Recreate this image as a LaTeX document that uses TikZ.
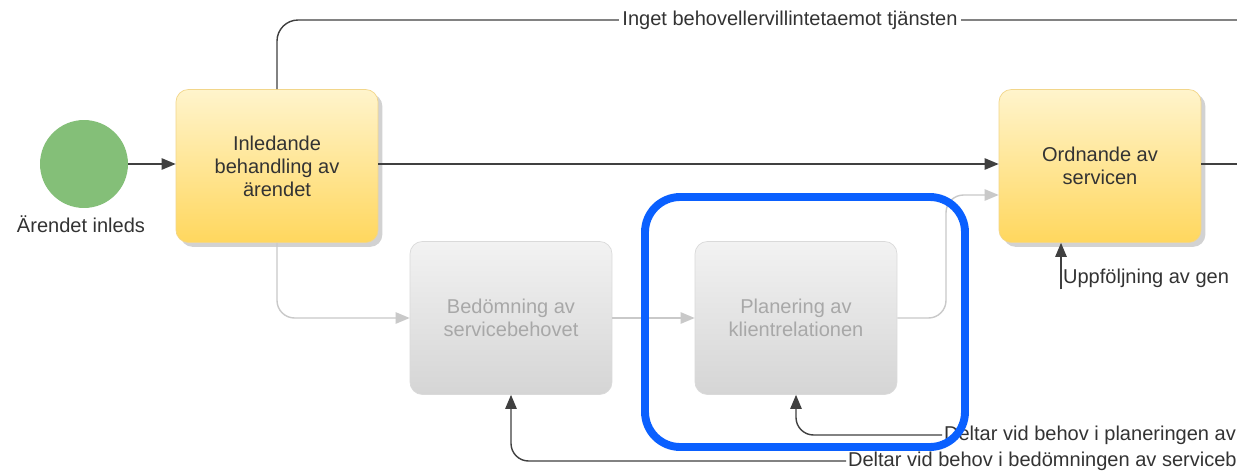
\documentclass[tikz,border=0pt]{standalone}
\usepackage{fontspec}
\setmainfont{Liberation Sans}
\usetikzlibrary{arrows.meta,shadows}
\definecolor{startgreen}{HTML}{84BF78}
\definecolor{yeltop}{HTML}{FFF4CC}
\definecolor{yelbot}{HTML}{FFD75E}
\definecolor{yelrim}{HTML}{F2D68A}
\definecolor{grytop}{HTML}{F2F2F2}
\definecolor{grybot}{HTML}{D5D5D5}
\definecolor{grytext}{HTML}{A8A8A8}
\definecolor{grline}{HTML}{C9C9C9}
\definecolor{txt}{HTML}{333333}
\definecolor{markblue}{HTML}{0A60FF}

\begin{document}
\begin{tikzpicture}[x=0.02cm,y=-0.02cm,
    font=\fontsize{11.4}{13.5}\selectfont, text=txt,
    task/.style={rounded corners=7pt, minimum width=4.04cm, minimum height=3.06cm,
        align=center, font=\fontsize{11.4}{13}\selectfont},
    active/.style={task, draw=yelrim, top color=yeltop, bottom color=yelbot,
        drop shadow={shadow xshift=2.5pt, shadow yshift=-2.5pt, opacity=0.35}},
    passive/.style={task, draw=grytop!90!black, top color=grytop, bottom color=grybot, text=grytext},
    flow/.style={draw=black!75, line width=0.8pt, -{Triangle[length=8pt,width=6.5pt]}},
    plain/.style={draw=black!75, line width=0.8pt},
    faint/.style={draw=grline, line width=0.8pt, -{Triangle[length=8pt,width=6.5pt,fill=grline]}}]
    \clip (0,0) rectangle (1237,470);
    \fill[white] (0,0) rectangle (1237,470);

    \node[circle, fill=startgreen, minimum size=1.76cm] (start) at (84,164) {};
    \node (startlbl) at (81,224) {Ärendet inleds};
    \node[active] (inled) at (277,166) {Inledande\\behandling av\\ärendet};
    \node[active] (ordn) at (1100,166) {Ordnande av\\servicen};
    \node[passive] (bedom) at (511,318) {Bedömning av\\servicebehovet};
    \node[passive] (plan) at (796,318) {Planering av\\klientrelationen};
    \coordinate (topend) at (1245,20);
    \coordinate (rightend) at (1245,164);

    \draw[flow] (start) -- (start -| inled.west);
    \draw[plain, rounded corners=12pt] (inled.north) |- (topend);
    \node[fill=white, inner xsep=2pt, inner ysep=1pt] (nobehov) at (790,20) {Inget behovellervillintetaemot tjänsten};
    \draw[flow] (start -| inled.east) -- (start -| ordn.west);
    \draw[plain] (start -| ordn.east) -- (rightend);
    \draw[faint, rounded corners=10pt] (inled.south) |- (bedom.west);
    \draw[faint] (bedom) -- (plan);
    \draw[faint, rounded corners=10pt] (plan.east) -- (946,318) |- ([yshift=-0.58cm]ordn.west);

    \node[anchor=west, inner sep=1pt] (uppf) at (1061,278) {Uppföljning av gen};
    \draw[flow] (uppf.south west) -- (uppf.south west |- ordn.south);
    \node[anchor=west, inner sep=1pt] (delplan) at (942,435) {Deltar vid behov i planeringen av};
    \draw[flow, rounded corners=10pt] (delplan.west) -| (plan.south);
    \node[anchor=west, inner sep=1pt] (delbed) at (846,461) {Deltar vid behov i bedömningen av serviceb};
    \draw[flow, rounded corners=10pt] (delbed.west) -| (bedom.south);

    \draw[markblue, line width=4.5pt, rounded corners=20pt] (645,197) rectangle (965,447);
\end{tikzpicture}
\end{document}
